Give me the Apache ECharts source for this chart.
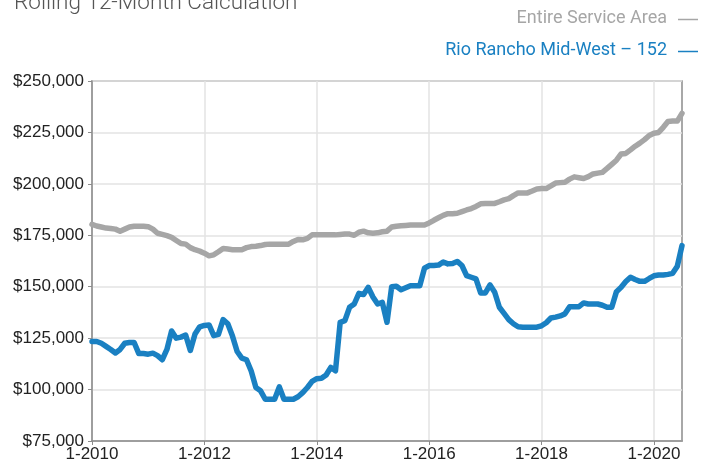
<!DOCTYPE html>
<html>
<head>
<meta charset="utf-8">
<script src="https://cdn.jsdelivr.net/npm/echarts@6/dist/echarts.min.js"></script>
<style>
html,body{margin:0;padding:0;background:#fff;}
#chart{width:701px;height:466px;}
</style>
</head>
<body>
<div id="chart"></div>
<script>
// Monthly categories Jan 2010 .. Jul 2020
const startYear = 2010;
const monthCount = 127;
const categories = [];
for (let i = 0; i < monthCount; i++) {
  categories.push((i % 12 + 1) + '-' + (startYear + Math.floor(i / 12)));
}

// Entire Service Area (thousands of $)
const entireServiceArea = [
  180.3,179.5,179,178.5,178.3,178,177,178,179,179.4,179.4,179.4,
  179.2,178,176,175.4,174.8,174,172.5,171,170.7,169,168,167.3,
  166.3,165,165.5,167,168.6,168.3,168,168,168,169,169.5,169.7,
  170,170.5,170.7,170.7,170.7,170.7,170.7,172,173,172.8,173.5,175.2,
  175.2,175.2,175.2,175.2,175.2,175.4,175.6,175.6,175,176.5,177,176.2,
  176,176.2,176.7,177,179,179.4,179.6,179.8,180,180,180,180,
  181,182.3,183.5,184.7,185.5,185.5,185.7,186.5,187.3,188,189,190.3,
  190.4,190.4,190.5,191.3,192.2,192.8,194.3,195.6,195.6,195.6,196.5,197.5,
  197.7,197.7,199,200.4,200.6,200.8,202.3,203.4,203,202.6,203.5,204.8,
  205.2,205.6,207.5,209.5,211.5,214.5,214.8,216.5,218.3,219.8,221.5,223.5,
  224.6,225,227.5,230.3,230.5,230.5,234.3
];

// Rio Rancho Mid-West – 152 (thousands of $)
const rioRanchoMidWest = [
  123.4,123.4,122.5,121,119.5,117.8,119.5,122.5,122.9,122.9,117.5,117.5,
  117.2,117.7,116.5,114.5,119.5,128.5,125,125.5,126.5,119,127,130.5,
  131.2,131.4,126.2,126.8,134,132,126,118.5,115.3,114.5,109,101,
  99.4,95.3,95.3,95.3,101.3,95.3,95.3,95.3,96.5,98.5,101,104,
  105.3,105.5,107.1,110.8,109.1,132.7,133.5,140,141.6,146.8,146.2,149.7,
  145,141.6,142.4,132.7,150,150.2,148.5,149.5,150.5,150.5,150.5,159,
  160.3,160.3,160.5,162,161.1,161.3,162.3,160.3,155.4,154.6,153.8,147,
  147,150.9,147.3,140,137,134,132,130.5,130.3,130.3,130.3,130.3,
  131,132.5,134.8,135.2,135.8,136.8,140.3,140.3,140.3,142.1,141.6,141.6,
  141.6,141,140,140,147.6,149.7,152.5,154.6,153.5,152.6,152.6,154,
  155.3,155.7,155.7,156,156.5,160,170
];

const titleText = 'Rolling 12-Month Calculation';
const seriesNames = ['Entire Service Area', 'Rio Rancho Mid-West – 152'];
const yMin = 75000, yMax = 250000, yStep = 25000;

const grayColor = '#a6a6a6';
const blueColor = '#1a80c2';
const labelFont = '"Liberation Sans", Arial, sans-serif';
const narrowFont = '"Roboto", sans-serif';

const chart = echarts.init(document.getElementById('chart'), null, {renderer: 'canvas'});
chart.setOption({
  animation: false,
  backgroundColor: '#fff',
  grid: {left: 92, right: 19, top: 81, bottom: 25, show: true, borderColor: '#8c8c8c', borderWidth: 1.5, containLabel: false},
  graphic: [
    {type: 'text', left: 14, top: -8, style: {text: titleText, font: '300 22.5px ' + narrowFont, fill: '#555'}},
    {type: 'text', right: 34, top: 9, style: {text: seriesNames[0], font: '18px ' + narrowFont, fill: grayColor}},
    {type: 'text', right: 34, top: 41, style: {text: seriesNames[1], font: '18px ' + narrowFont, fill: blueColor}},
    {type: 'line', shape: {x1: 678, y1: 19.5, x2: 698, y2: 19.5}, style: {stroke: grayColor, lineWidth: 1.5}},
    {type: 'line', shape: {x1: 678, y1: 51.5, x2: 698, y2: 51.5}, style: {stroke: blueColor, lineWidth: 1.5}}
  ],
  xAxis: {
    type: 'category',
    data: categories,
    boundaryGap: false,
    axisLine: {show: true, lineStyle: {color: '#8c8c8c', width: 1.5}},
    axisTick: {show: true, interval: 23, length: 4, lineStyle: {color: '#8c8c8c'}},
    axisLabel: {interval: 23, color: '#222', fontSize: 17, fontFamily: labelFont, margin: 5},
    splitLine: {show: true, interval: 23, lineStyle: {color: '#e3e3e3', width: 1.5}}
  },
  yAxis: {
    type: 'value',
    min: yMin, max: yMax, interval: yStep,
    axisLine: {show: true, lineStyle: {color: '#8c8c8c', width: 1.5}},
    axisTick: {show: true, length: 4, lineStyle: {color: '#8c8c8c'}},
    axisLabel: {color: '#222', fontSize: 17, fontFamily: labelFont, margin: 8,
      formatter: v => '$' + v.toLocaleString('en-US')},
    splitLine: {show: true, lineStyle: {color: '#e3e3e3', width: 1.5}}
  },
  series: [
    {name: seriesNames[0], type: 'line', data: entireServiceArea.map(v => v * 1000), showSymbol: false,
      lineStyle: {color: grayColor, width: 5.5, join: 'round', cap: 'round'}, itemStyle: {color: grayColor}},
    {name: seriesNames[1], type: 'line', data: rioRanchoMidWest.map(v => v * 1000), showSymbol: false,
      lineStyle: {color: blueColor, width: 5.5, join: 'round', cap: 'round'}, itemStyle: {color: blueColor}}
  ]
});
</script>
</body>
</html>
